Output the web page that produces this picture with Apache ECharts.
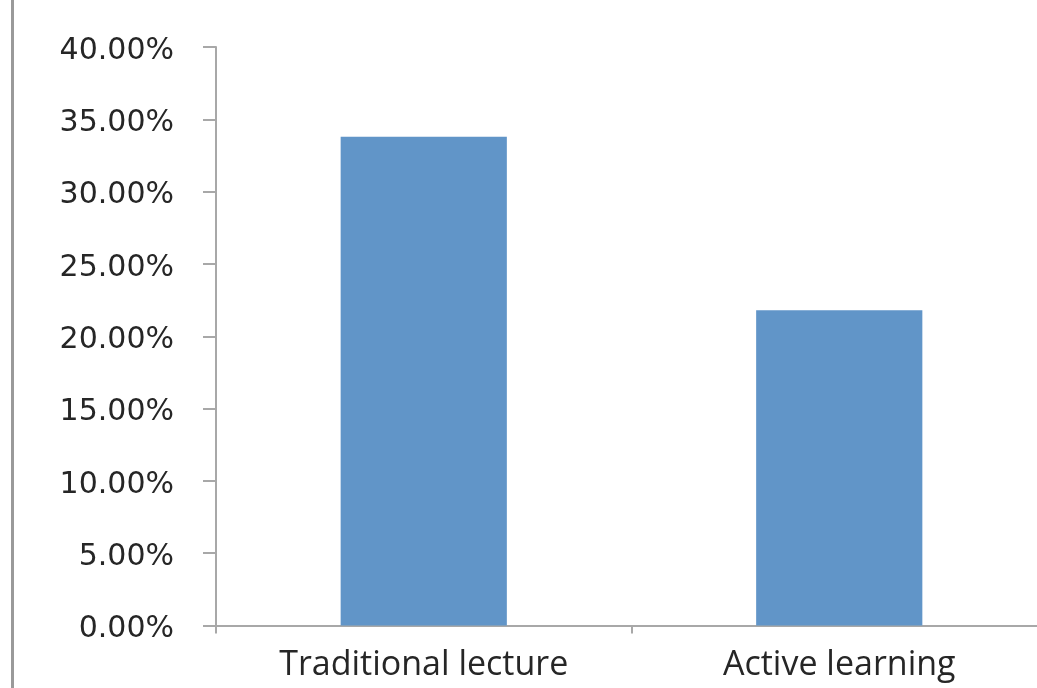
<!DOCTYPE html>
<html>
<head>
<meta charset="utf-8">
<script src="https://cdn.jsdelivr.net/npm/echarts@6/dist/echarts.min.js"></script>
<style>
html,body{margin:0;padding:0;background:#fff;}
#chart{width:1037px;height:688px;}
</style>
</head>
<body>
<div id="chart"></div>
<script>
const categories = ['Traditional lecture', 'Active learning'];
const values = [33.8, 21.8];
const yTicks = [0, 5, 10, 15, 20, 25, 30, 35, 40];

const chart = echarts.init(document.getElementById('chart'), null, {renderer: 'canvas'});
chart.setOption({
  animation: false,
  backgroundColor: '#ffffff',
  grid: {left: 216, width: 831, top: 47, height: 578.5, containLabel: false, outerBoundsMode: 'none'},
  graphic: [{
    type: 'line',
    shape: {x1: 12.5, y1: 0, x2: 12.5, y2: 688},
    style: {stroke: '#9a9a9a', lineWidth: 3}
  }],
  xAxis: {
    type: 'category',
    data: categories,
    axisLine: {show: true, lineStyle: {color: '#a8a8a8', width: 2}},
    axisTick: {show: true, alignWithLabel: false, length: 8, lineStyle: {color: '#a8a8a8', width: 2}},
    axisLabel: {
      color: '#262626',
      fontFamily: 'Open Sans',
      fontSize: 34,
      margin: 23
    },
    splitLine: {show: false}
  },
  yAxis: {
    type: 'value',
    min: yTicks[0],
    max: yTicks[yTicks.length - 1],
    interval: 5,
    axisLine: {show: true, lineStyle: {color: '#a8a8a8', width: 2}},
    axisTick: {show: true, length: 13, lineStyle: {color: '#a8a8a8', width: 2}},
    axisLabel: {
      color: '#262626',
      fontFamily: 'DejaVu Sans',
      fontSize: 30,
      margin: 42,
      verticalAlign: 'top',
      lineHeight: 8,
      formatter: v => v.toFixed(2) + '%'
    },
    splitLine: {show: false}
  },
  series: [{
    type: 'bar',
    data: values,
    barWidth: '40%',
    itemStyle: {color: '#6195c8'}
  }]
});
</script>
</body>
</html>
